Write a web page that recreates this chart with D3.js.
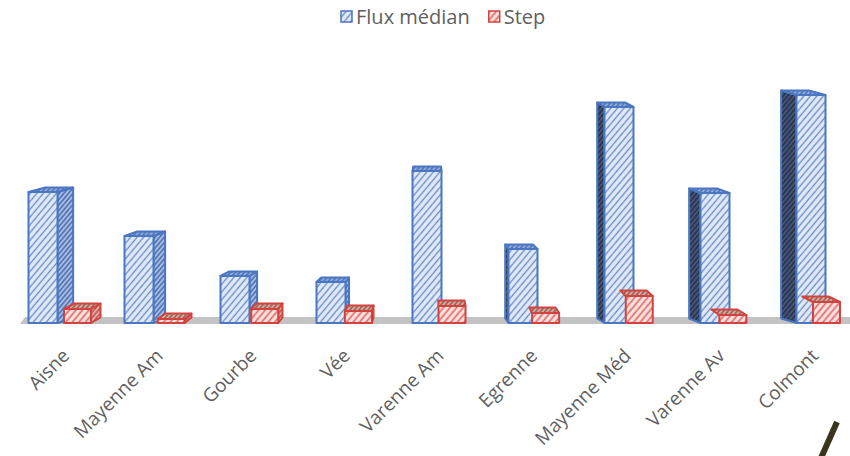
<!DOCTYPE html>
<html><head><meta charset="utf-8">
<script src="https://cdn.jsdelivr.net/npm/d3@7/dist/d3.min.js"></script>
<style>body{margin:0;background:#fff}svg{display:block}</style>
</head><body>
<svg id="chart" width="850" height="456"></svg>
<script>
// Stations and series values
const categories = ["Aisne", "Mayenne Am", "Gourbe", "Vée", "Varenne Am", "Egrenne", "Mayenne Méd", "Varenne Av", "Colmont"];
const fluxMedian = [131, 87, 47, 41, 152, 74, 216, 130, 228];
const step = [14, 4, 14, 12, 17, 10, 27, 8, 21];
const seriesNames = ["Flux médian", "Step"];

const svg = d3.select("#chart");
const defs = svg.append("defs");
const W = 850, H = 456;
const vx = 430;          // horizontal vanishing point for the 3D look
const baseY = 323;       // front edge of the floor

// diagonal hatch patterns
function hatch(id, bg, line, size, lw) {
  const p = defs.append("pattern").attr("id", id)
    .attr("patternUnits", "userSpaceOnUse")
    .attr("width", size).attr("height", size)
    .attr("patternTransform", "rotate(40)");
  p.append("rect").attr("width", size).attr("height", size).attr("fill", bg);
  p.append("line").attr("x1", size / 2).attr("x2", size / 2)
    .attr("y1", -1).attr("y2", size + 1)
    .attr("stroke", line).attr("stroke-width", lw);
}
hatch("bFront", "#e3ebf7", "#6a8fcc", 5, 1.4);
hatch("bSideL", "#a9bde2", "#3f67ad", 3.5, 1.4);
hatch("bSideR", "#2a3550", "#5a6f96", 3.5, 1.0);
hatch("bTop", "#8eaadb", "#3d64aa", 3.5, 1.2);
hatch("rFront", "#fce4e2", "#dc6a66", 5, 1.7);
hatch("rSide", "#e8a9a4", "#b8443f", 3.5, 1.3);
hatch("rTop", "#d7aaa0", "#8c5a4c", 3.5, 1.4);

const blueStroke = "#4a76c2", redStroke = "#d2433f";

// scales
const xBlue = d3.scalePoint().domain(categories).range([43, 811]);
const xRed = d3.scalePoint().domain(categories).range([77.5, 826.5]);
const y = d3.scaleLinear().domain([0, 250]).range([baseY, baseY - 250]);

const blueW = 29, redW = 27;

// floor
svg.append("path")
  .attr("d", d3.line()([[20, baseY + 1], [25, baseY - 6], [W, baseY - 6], [W, baseY + 1]]) + "Z")
  .attr("fill", "#c3c3c3");

function drawBox(g, xl, xr, yTop, yBase, k, dd, f, stroke, showLeftSide) {
  const bx = x => x + (vx - x) * k;
  const line = d3.line();
  const attrs = sel => sel.attr("stroke", stroke).attr("stroke-width", 2)
    .attr("stroke-linejoin", "round");
  if (xr < vx) {
    g.append("path").attr("d", line([[xr, yTop], [bx(xr), yTop - dd], [bx(xr), yBase - dd], [xr, yBase]]) + "Z")
      .attr("fill", `url(#${f.sideL})`).call(attrs);
  } else if (xl > vx && showLeftSide) {
    g.append("path").attr("d", line([[xl, yTop], [bx(xl), yTop - dd], [bx(xl), yBase - dd], [xl, yBase]]) + "Z")
      .attr("fill", `url(#${f.sideR})`).call(attrs);
  }
  g.append("path").attr("d", line([[xl, yTop], [xr, yTop], [bx(xr), yTop - dd], [bx(xl), yTop - dd]]) + "Z")
    .attr("fill", `url(#${f.top})`).call(attrs);
  g.append("rect").attr("x", xl).attr("y", yTop).attr("width", xr - xl).attr("height", yBase - yTop)
    .attr("fill", `url(#${f.front})`).call(attrs);
}

const bars = svg.append("g");
categories.forEach((c, i) => {
  const g = bars.append("g");
  const bc = xBlue(c);
  drawBox(g, bc - blueW / 2, bc + blueW / 2, y(fluxMedian[i]), baseY, 0.042, 4.5,
    { front: "bFront", sideL: "bSideL", sideR: "bSideR", top: "bTop" }, blueStroke, true);
  const rc = xRed(c);
  drawBox(g, rc - redW / 2, rc + redW / 2, y(step[i]), baseY, 0.028, 5.5,
    { front: "rFront", sideL: "rSide", sideR: "rSide", top: "rTop" }, redStroke, false);
});

// category labels
svg.append("g").selectAll("text").data(categories).join("text")
  .attr("transform", d => `translate(${xRed(d) - 7},357) rotate(-45)`)
  .attr("text-anchor", "end")
  .attr("font-family", "'Open Sans', sans-serif")
  .attr("font-size", 19)
  .attr("fill", "#5f5f5f")
  .text(d => d);

// legend
const legend = svg.append("g");
const legendFills = [["bFront", blueStroke], ["rFront", redStroke]];
let lx = 341;
seriesNames.forEach((name, i) => {
  legend.append("rect").attr("x", lx).attr("y", 11).attr("width", 11).attr("height", 11)
    .attr("fill", `url(#${legendFills[i][0]})`).attr("stroke", legendFills[i][1]).attr("stroke-width", 1.5);
  const t = legend.append("text").attr("x", lx + 15).attr("y", 24)
    .attr("font-family", "'Open Sans', sans-serif").attr("font-size", 20)
    .attr("fill", "#5f5f5f").text(name);
  lx += 15 + t.node().getComputedTextLength() + 19;
});

// pen stroke in the lower right corner
svg.append("line").attr("x1", 837).attr("y1", 422).attr("x2", 821).attr("y2", 458)
  .attr("stroke", "#3b3520").attr("stroke-width", 6);
</script>
</body></html>
